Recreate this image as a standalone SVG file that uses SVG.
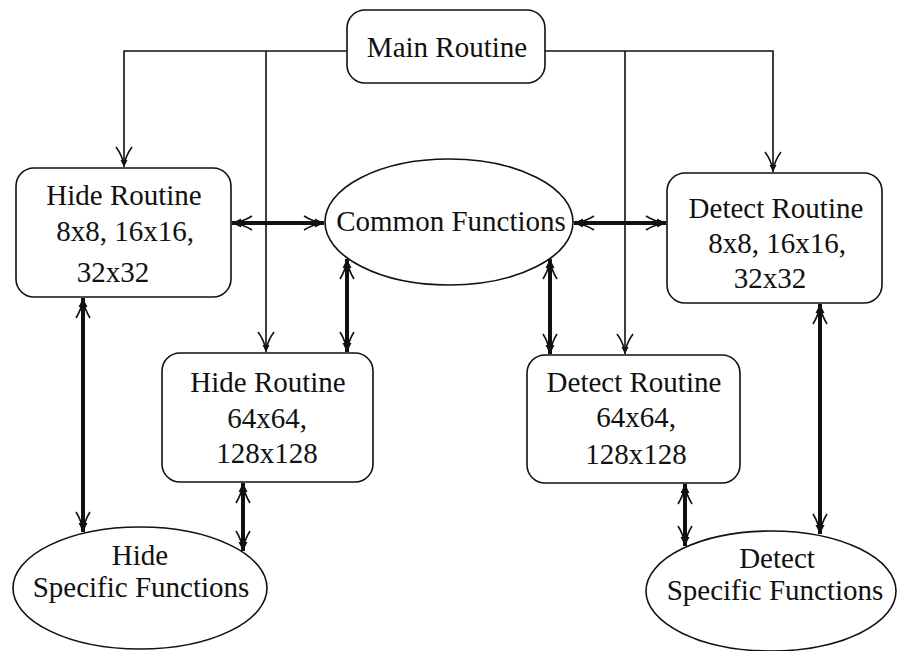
<svg xmlns="http://www.w3.org/2000/svg" width="897" height="651" viewBox="0 0 897 651">
<defs>
<style>
.box{fill:#fff;stroke:#111;stroke-width:1.6}
.t{font-family:"Liberation Serif","Times New Roman",serif;font-size:29px;fill:#111;text-anchor:middle}
.thin{fill:none;stroke:#111;stroke-width:1.6}
.thick{fill:none;stroke:#111;stroke-width:4}
</style>
<marker id="av" markerUnits="userSpaceOnUse" markerWidth="30" markerHeight="24" viewBox="-24 -12 30 24" refX="0" refY="0" orient="auto-start-reverse" overflow="visible">
<path d="M0,0 L-7,-3.5 L-7,3.5 Z" fill="#111"/>
<path d="M-2,0 Q-12,-2 -20,-8 M-2,0 Q-12,2 -20,8" fill="none" stroke="#111" stroke-width="1.6"/>
</marker>
<marker id="ak" markerUnits="userSpaceOnUse" markerWidth="30" markerHeight="24" viewBox="-24 -12 30 24" refX="0" refY="0" orient="auto-start-reverse" overflow="visible">
<path d="M0,0 L-9,-4.5 L-9,4.5 Z" fill="#111"/>
<path d="M-2,0 Q-12,-2 -20,-7 M-2,0 Q-12,2 -20,7" fill="none" stroke="#111" stroke-width="1.6"/>
</marker>
</defs>
<rect width="897" height="651" fill="#fff"/>
<g id="connectors">
<path class="thin" d="M347,51 H124 V167" marker-end="url(#av)"/>
<path class="thin" d="M266,51 V352" marker-end="url(#av)"/>
<path class="thin" d="M545,51 H773 V172" marker-end="url(#av)"/>
<path class="thin" d="M625,51 V354" marker-end="url(#av)"/>
<path class="thick" d="M232,223 H324" marker-start="url(#ak)" marker-end="url(#ak)"/>
<path class="thick" d="M574,223 H666" marker-start="url(#ak)" marker-end="url(#ak)"/>
<path class="thick" d="M347,259 V352" marker-start="url(#ak)" marker-end="url(#ak)"/>
<path class="thick" d="M550,259 V354" marker-start="url(#ak)" marker-end="url(#ak)"/>
<path class="thick" d="M83,298 V532" marker-start="url(#ak)" marker-end="url(#ak)"/>
<path class="thick" d="M243,483 V551" marker-start="url(#ak)" marker-end="url(#ak)"/>
<path class="thick" d="M820,304 V534" marker-start="url(#ak)" marker-end="url(#ak)"/>
<path class="thick" d="M685,484 V546" marker-start="url(#ak)" marker-end="url(#ak)"/>
</g>
<g id="main">
<rect class="box" x="347" y="10" width="198" height="73" rx="18"/>
<text class="t" x="447" y="57">Main Routine</text>
</g>
<g id="hide">
<rect class="box" x="16" y="168" width="215" height="129" rx="18"/>
<text class="t" x="124" y="205">Hide Routine</text>
<text class="t" x="125" y="241">8x8, 16x16,</text>
<text class="t" x="113" y="282">32x32</text>
</g>
<g id="common">
<ellipse class="box" cx="449" cy="222" rx="124" ry="63"/>
<text class="t" x="451" y="231">Common Functions</text>
</g>
<g id="detect">
<rect class="box" x="667" y="173" width="215" height="130" rx="18"/>
<text class="t" x="776" y="218">Detect Routine</text>
<text class="t" x="777" y="253">8x8, 16x16,</text>
<text class="t" x="770" y="288">32x32</text>
</g>
<g id="hide64">
<rect class="box" x="162" y="353" width="211" height="129" rx="18"/>
<text class="t" x="268" y="392">Hide Routine</text>
<text class="t" x="267" y="428">64x64,</text>
<text class="t" x="267" y="463">128x128</text>
</g>
<g id="detect64">
<rect class="box" x="527" y="355" width="213" height="128" rx="18"/>
<text class="t" x="634" y="392">Detect Routine</text>
<text class="t" x="636" y="427">64x64,</text>
<text class="t" x="636" y="464">128x128</text>
</g>
<g id="hidespec">
<ellipse class="box" cx="140" cy="588" rx="127" ry="61"/>
<text class="t" x="140" y="565">Hide</text>
<text class="t" x="141" y="597">Specific Functions</text>
</g>
<g id="detectspec">
<ellipse class="box" cx="771" cy="591" rx="125" ry="60"/>
<text class="t" x="777" y="568">Detect</text>
<text class="t" x="775" y="600">Specific Functions</text>
</g>
</svg>
